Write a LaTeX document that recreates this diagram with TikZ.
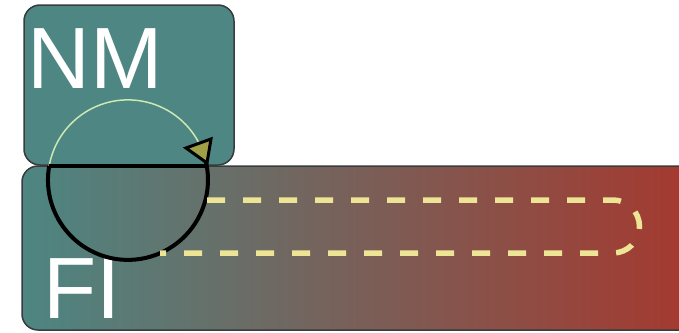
\documentclass[tikz,border=0pt]{standalone}
\usepackage{fontspec}
\setmainfont{Liberation Sans}
\definecolor{tealbox}{RGB}{77,134,130}
\definecolor{rustred}{RGB}{166,56,46}
\definecolor{boxline}{RGB}{55,60,60}
\definecolor{paleloop}{RGB}{238,228,150}
\definecolor{palearc}{RGB}{205,232,180}
\definecolor{tipfill}{RGB}{160,160,70}
\tikzset{
  panel/.style={draw=boxline, line width=1.5pt, rounded corners=16pt, inner sep=0pt},
  bigtext/.style={text=white, inner sep=0pt, text depth=0pt, font=\fontsize{87}{87}\selectfont},
  cycleline/.style={draw=black, line width=4pt},
  loopline/.style={draw=paleloop, line width=5.5pt, dash pattern=on 18pt off 18pt},
}
\begin{document}
\begin{tikzpicture}[x=1pt,y=-1pt]
\useasboundingbox (0,0) rectangle (679,332);
\clip (0,0) rectangle (679,332);
% upper panel
\node[panel, fill=tealbox, minimum width=210pt, minimum height=160pt] (nm) at (129,85) {};
% lower panel with horizontal colour gradient
\node[panel, left color=tealbox, right color=rustred, minimum width=676pt, minimum height=164pt] (fi) at (360,248) {};
% labels
\node[bigtext, anchor=base west] (nmlabel) at (27,88) {NM};
\node[bigtext, anchor=base west] (filabel) at (43,318) {FI};
% circle: pale upper arc, black lower arc and chord
\coordinate (cl) at (49.2,166);
\coordinate (cr) at (206.8,166);
\draw[palearc, line width=1.5pt] (cl) arc[start angle=190, end angle=333, radius=80];
\draw[cycleline] (cl) arc[start angle=190, end angle=-14, radius=80];
\draw[cycleline] (cl) -- (cr);
% arrow tip
\coordinate (t1) at (186,148);
\coordinate (t2) at (211,139);
\coordinate (t3) at (207,163);
\draw[line width=3pt, line join=miter, fill=tipfill] (t1) -- (t2) -- (t3) -- cycle;
% dashed return loop
\coordinate (la) at (207,200);
\coordinate (lb) at (613,200);
\coordinate (lc) at (613,253);
\coordinate (ld) at (160,253);
\draw[loopline] (la) -- (lb) arc[start angle=-90, end angle=90, radius=26.5] -- (ld);
\end{tikzpicture}
\end{document}
